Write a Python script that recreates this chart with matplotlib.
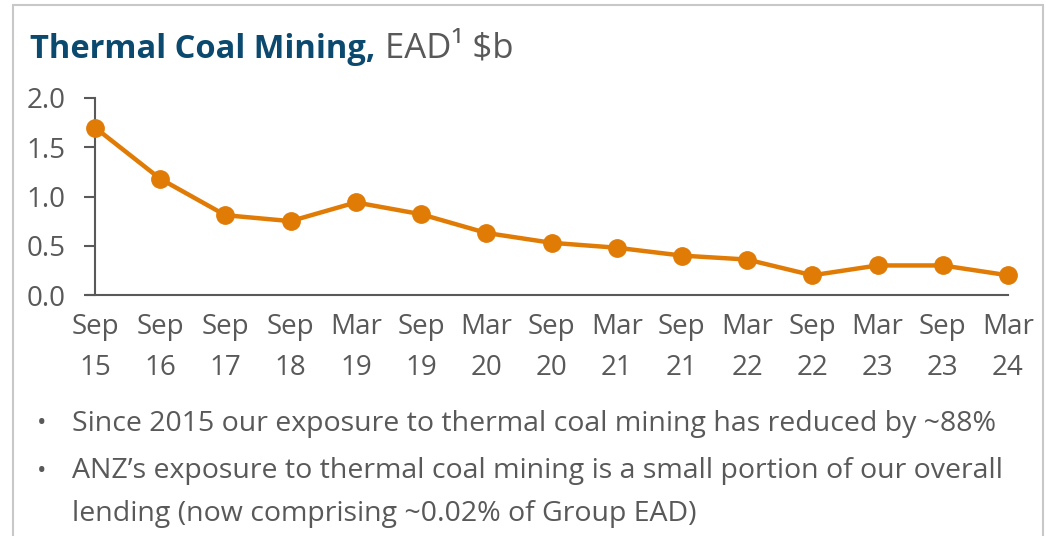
import matplotlib.pyplot as plt
from matplotlib.patches import Rectangle

periods = ["Sep\n15", "Sep\n16", "Sep\n17", "Sep\n18", "Mar\n19", "Sep\n19", "Mar\n20",
           "Sep\n20", "Mar\n21", "Sep\n21", "Mar\n22", "Sep\n22", "Mar\n23", "Sep\n23", "Mar\n24"]
ead = [1.7, 1.18, 0.81, 0.75, 0.94, 0.82, 0.63, 0.53, 0.48, 0.40, 0.36, 0.20, 0.30, 0.30, 0.20]
yticks = [0.0, 0.5, 1.0, 1.5, 2.0]
bullet_lines = [
    "Since 2015 our exposure to thermal coal mining has reduced by ~88%",
    "ANZ\u2019s exposure to thermal coal mining is a small portion of our overall",
    "lending (now comprising ~0.02% of Group EAD)",
]

orange = "#E07B05"
grey = "#595959"
navy = "#0B4A6E"

plt.rcParams['font.family'] = ['Open Sans', 'DejaVu Sans']

fig = plt.figure(figsize=(10.46, 5.36), dpi=100)
ax = fig.add_axes([95 / 1046, 1 - 295 / 536, (1008 - 95) / 1046, (295 - 98) / 536])

x = list(range(len(ead)))
ax.plot(x, ead, color=orange, lw=3.2, marker="o", ms=12.5, clip_on=False, zorder=3)

ax.set_xlim(0, len(ead) - 1)
ax.set_ylim(0, 2.0)
ax.set_yticks(yticks)
ax.set_yticklabels([f"{v:.1f}" for v in yticks])
ax.set_xticks(x)
ax.set_xticklabels(periods, linespacing=1.6)

for s in ["top", "right"]:
    ax.spines[s].set_visible(False)
for s in ["left", "bottom"]:
    ax.spines[s].set_color(grey)
    ax.spines[s].set_linewidth(1.5)
ax.spines["bottom"].set_bounds(-0.12, len(ead) - 1)
ax.tick_params(axis="y", colors=grey, labelsize=20, length=8, width=1.5, pad=13)
ax.tick_params(axis="x", colors=grey, labelsize=20, length=0, pad=13)

# outer frame
fig.patches.append(Rectangle((13 / 1046, -0.05), 1030 / 1046, 1.05 - 5 / 536,
                             transform=fig.transFigure, fill=False,
                             edgecolor="#C8C8C8", lw=1.5))

t = fig.text(30 / 1046, 1 - 58 / 536, "Thermal Coal Mining,", color=navy,
             fontsize=23.5, fontweight="bold", va="baseline")
ax.annotate("EAD\u00b9 $b", xy=(1, 0), xycoords=t, xytext=(10, 0),
            textcoords="offset pixels", color=grey, fontsize=25, va="bottom")

# bullet points under the chart
line_y = [424, 471, 514]
for i, (y, line) in enumerate(zip(line_y, bullet_lines)):
    if i < 2:
        fig.text(37 / 1046, 1 - y / 536, "\u2022", color=grey, fontsize=18, va="center")
    fig.text(72 / 1046, 1 - y / 536, line, color=grey, fontsize=20.5, va="center")

fig.savefig("out.png", dpi=100)
